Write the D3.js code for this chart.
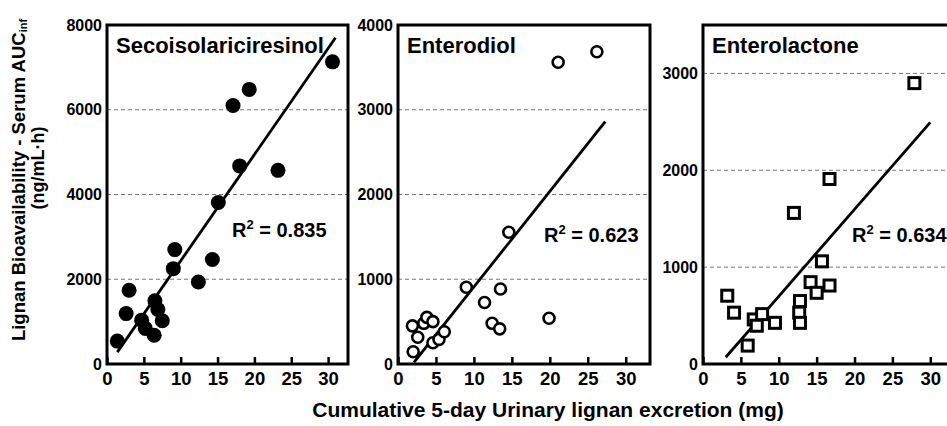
<!DOCTYPE html>
<html>
<head>
<meta charset="utf-8">
<script src="https://cdn.jsdelivr.net/npm/d3@7"></script>
<style>
  body { margin: 0; background: #fff; }
  svg { font-family: "Liberation Sans", Arial, Helvetica, sans-serif; font-weight: bold; }
</style>
</head>
<body>
<svg id="chart" width="947" height="426"></svg>
<script>
// Values are [cumulative urinary excretion (mg), serum AUC (ng/mL·h)]
const secoPoints = [
  [1.4, 540], [2.6, 1190], [3.0, 1740], [4.7, 1035], [5.2, 840], [6.4, 680],
  [6.5, 1490], [6.9, 1285], [7.5, 1020], [9.0, 2250], [9.2, 2700], [12.4, 1935],
  [14.3, 2465], [15.1, 3810], [17.1, 6100], [18.0, 4675], [19.3, 6480],
  [23.2, 4570], [30.6, 7130]
];
const secoFit = [[1.4, 280], [31.0, 7700]];
const secoTicks = [0, 2000, 4000, 6000, 8000];

const enterodiolPoints = [
  [1.9, 450], [2.0, 145], [2.6, 315], [3.4, 480], [3.8, 550], [4.6, 500],
  [4.6, 250], [5.4, 290], [6.1, 380], [9.0, 905], [11.4, 725], [12.4, 480],
  [13.4, 415], [13.5, 885], [14.6, 1555], [19.9, 540], [21.1, 3560], [26.2, 3685]
];
const enterodiolFit = [[2.1, 20], [27.3, 2860]];
const enterodiolTicks = [0, 1000, 2000, 3000, 4000];

const enterolactonePoints = [
  [3.2, 705], [4.1, 530], [5.9, 190], [6.7, 460], [7.1, 395], [7.8, 515],
  [9.5, 425], [12.0, 1560], [12.7, 530], [12.8, 425], [12.8, 650], [14.2, 845],
  [15.0, 735], [15.7, 1060], [16.7, 810], [16.7, 1910], [27.9, 2900]
];
const enterolactoneFit = [[3.0, 70], [30.0, 2495]];
const enterolactoneTicks = [0, 1000, 2000, 3000];

const xTicks = [0, 5, 10, 15, 20, 25, 30];
const panelNames = ["Secoisolariciresinol", "Enterodiol", "Enterolactone"];
const rSquared = ["0.835", "0.623", "0.634"];

const svg = d3.select("#chart");
const plotTop = 25, plotBottom = 364;

// Layout of the three panels (pixels), data attached from the arrays above
const panels = [
  { name: panelNames[0], points: secoPoints, fit: secoFit, yTicks: secoTicks, yMax: 8000,
    left: 107, right: 348, xMax: 32.7, marker: "dot", r2: rSquared[0], r2x: 232, r2y: 237 },
  { name: panelNames[1], points: enterodiolPoints, fit: enterodiolFit, yTicks: enterodiolTicks, yMax: 4000,
    left: 398, right: 650, xMax: 33.2, marker: "ring", r2: rSquared[1], r2x: 544, r2y: 242 },
  { name: panelNames[2], points: enterolactonePoints, fit: enterolactoneFit, yTicks: enterolactoneTicks, yMax: 3500,
    left: 703, right: 953, xMax: 33.0, marker: "square", r2: rSquared[2], r2x: 852, r2y: 242 }
];

const tickFont = sel => sel
  .attr("fill", "#000")
  .style("font-family", "'Liberation Sans', Arial, sans-serif")
  .style("font-weight", "bold");

panels.forEach(p => {
  const x = d3.scaleLinear().domain([0, p.xMax]).range([p.left, p.right]);
  const y = d3.scaleLinear().domain([0, p.yMax]).range([plotBottom, plotTop]);
  const g = svg.append("g");

  // dashed grid lines at inner ticks
  g.selectAll(".grid")
    .data(p.yTicks.filter(t => t > 0 && t < p.yMax))
    .enter().append("line")
    .attr("x1", p.left).attr("x2", p.right)
    .attr("y1", d => y(d)).attr("y2", d => y(d))
    .attr("stroke", "#777")
    .attr("stroke-width", 1)
    .attr("stroke-dasharray", "4 3");

  // x axis with ticks pointing into the plot
  const xAxis = g.append("g")
    .attr("transform", `translate(0,${plotBottom})`)
    .call(d3.axisBottom(x).tickValues(xTicks).tickSizeInner(-7).tickSizeOuter(0).tickPadding(8));
  xAxis.select(".domain").remove();
  xAxis.selectAll("line").attr("stroke", "#000").attr("stroke-width", 2.5);
  xAxis.selectAll("text").call(tickFont).style("font-size", "18.5px");

  // y axis labels only
  const yAxis = g.append("g")
    .attr("transform", `translate(${p.left},0)`)
    .call(d3.axisLeft(y).tickValues(p.yTicks).tickFormat(d3.format("d")).tickSize(0).tickPadding(5));
  yAxis.select(".domain").remove();
  yAxis.selectAll("text").call(tickFont).style("font-size", "16px");

  // frame
  g.append("rect")
    .attr("x", p.left).attr("y", plotTop)
    .attr("width", p.right - p.left).attr("height", plotBottom - plotTop)
    .attr("fill", "none")
    .attr("stroke", "#000")
    .attr("stroke-width", 3);

  // regression line
  g.append("line")
    .attr("x1", x(p.fit[0][0])).attr("y1", y(p.fit[0][1]))
    .attr("x2", x(p.fit[1][0])).attr("y2", y(p.fit[1][1]))
    .attr("stroke", "#000")
    .attr("stroke-width", 2.8);

  // markers
  if (p.marker === "square") {
    g.selectAll(".pt")
      .data(p.points)
      .enter().append("rect")
      .attr("x", d => x(d[0]) - 5.5)
      .attr("y", d => y(d[1]) - 5.5)
      .attr("width", 11).attr("height", 11)
      .attr("fill", "#fff")
      .attr("stroke", "#000")
      .attr("stroke-width", 3);
  } else {
    g.selectAll(".pt")
      .data(p.points)
      .enter().append("circle")
      .attr("cx", d => x(d[0]))
      .attr("cy", d => y(d[1]))
      .attr("r", p.marker === "dot" ? 7.5 : 5.5)
      .attr("fill", p.marker === "dot" ? "#000" : "#fff")
      .attr("stroke", "#000")
      .attr("stroke-width", p.marker === "dot" ? 0 : 2.6);
  }

  // title
  g.append("text")
    .attr("x", p.left + 9).attr("y", 53)
    .style("font-size", "22px")
    .text(p.name);

  // R squared
  const r2 = g.append("text")
    .attr("x", p.r2x).attr("y", p.r2y)
    .style("font-size", "20px");
  r2.append("tspan").text("R");
  r2.append("tspan").attr("dy", -8).style("font-size", "13px").text("2");
  r2.append("tspan").attr("dy", 8).text(` = ${p.r2}`);
});

// axis titles
const yLabel = svg.append("text")
  .attr("transform", "translate(25,180) rotate(-90)")
  .attr("text-anchor", "middle")
  .style("font-size", "18.5px");
yLabel.append("tspan").text("Lignan Bioavailability - Serum AUC");
yLabel.append("tspan").attr("dy", 2).style("font-size", "11px").text("inf");

svg.append("text")
  .attr("transform", "translate(44,168) rotate(-90)")
  .attr("text-anchor", "middle")
  .style("font-size", "18px")
  .text("(ng/mL·h)");

svg.append("text")
  .attr("x", 548).attr("y", 417)
  .attr("text-anchor", "middle")
  .style("font-size", "21px")
  .text("Cumulative 5-day Urinary lignan excretion (mg)");
</script>
</body>
</html>
